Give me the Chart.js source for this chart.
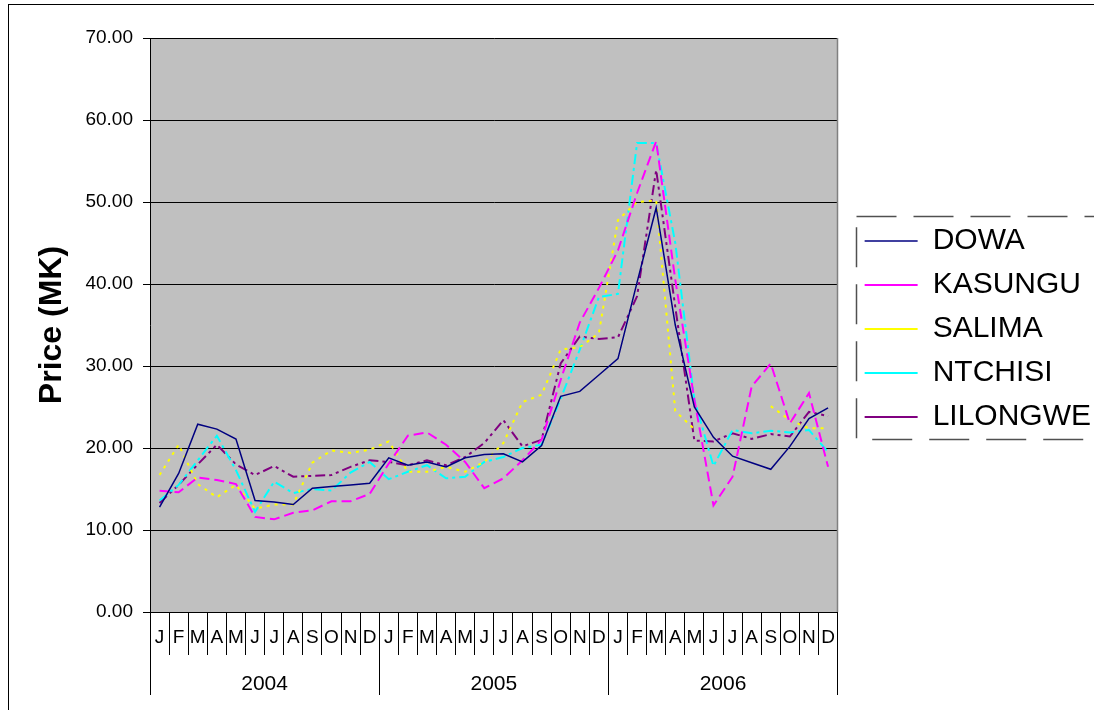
<!DOCTYPE html>
<html lang="en">
<head>
<meta charset="UTF-8">
<title>Price (MK)</title>
<script src="https://cdn.jsdelivr.net/npm/chart.js@4.4.1/dist/chart.umd.min.js"></script>
<style>
    html, body {margin:0; padding:0; background:#fff;}
    #wrap {width:1094px; height:710px;}
</style>
</head>
<body>
<div id="wrap"><canvas id="priceChart" width="1094" height="710"></canvas></div>
<script>
const months = ['J','F','M','A','M','J','J','A','S','O','N','D',
                'J','F','M','A','M','J','J','A','S','O','N','D',
                'J','F','M','A','M','J','J','A','S','O','N','D']
const years = ['2004','2005','2006']

const dowa = [12.8,16.9,22.9,22.3,21.1,13.6,13.4,13.1,15.1,15.3,15.5,15.7,
              18.8,17.9,18.3,17.7,18.8,19.2,19.3,18.3,20.3,26.3,26.9,28.9,
              30.9,40.2,49.3,35.0,25.0,21.3,19.0,18.2,17.4,20.2,23.6,24.9]
const kasungu = [14.8,14.6,16.4,16.1,15.6,11.6,11.3,12.1,12.4,13.5,13.5,14.4,
                 18.1,21.5,21.9,20.4,18.3,15.1,16.3,18.5,21.0,28.3,35.3,39.5,
                 44.1,51.1,57.4,40.5,25.9,13.0,16.5,27.5,30.3,23.0,26.7,17.7]
const salima = [16.7,20.4,15.6,14.0,15.5,12.6,13.1,13.1,18.2,19.7,19.4,19.8,
                20.8,17.1,17.1,17.7,17.1,18.3,20.6,25.6,26.5,32.0,32.3,34.0,
                47.8,50.0,50.2,24.5,22.3,null,null,null,25.1,23.4,22.4,22.4]
const ntchisi = [13.6,15.5,18.5,21.5,17.3,12.2,15.9,14.5,15.0,14.8,17.0,18.3,
                 16.2,17.1,17.9,16.3,16.5,18.3,18.9,20.0,20.4,26.0,32.0,38.4,
                 38.8,57.2,57.2,45.0,25.9,17.8,22.2,21.8,22.1,21.9,22.2,19.5]
const lilongwe = [13.3,15.5,18.0,20.4,18.0,16.7,17.8,16.5,16.6,16.7,17.7,18.5,
                  18.3,17.9,18.5,17.9,18.9,20.6,23.4,20.2,21.0,30.3,33.6,33.3,
                  33.5,38.5,53.9,37.2,20.9,20.8,21.8,21.1,21.7,21.4,24.4,23.9]

const yMin = 0, yMax = 70, yStep = 10

const FONT = "'Liberation Sans', Arial, sans-serif"
Chart.defaults.font.family = FONT
Chart.defaults.color = '#000'

// grey plot area + frames
const framePlugin = {
    id: 'frames',
    beforeDraw(chart){
        const {ctx, chartArea:a} = chart
        ctx.save()
        ctx.fillStyle = '#fff'
        ctx.fillRect(0, 0, chart.width, chart.height)
        ctx.fillStyle = '#c0c0c0'
        ctx.fillRect(a.left, a.top, a.right - a.left, a.bottom - a.top)
        ctx.restore()
    },
    beforeDatasetsDraw(chart){
        const {ctx, chartArea:a} = chart
        ctx.save()
        ctx.strokeStyle = '#808080'
        ctx.lineWidth = 1.5
        ctx.beginPath()
        ctx.moveTo(Math.round(a.right) - 0.5, a.top)
        ctx.lineTo(Math.round(a.right) - 0.5, a.bottom)
        ctx.stroke()
        ctx.restore()
    },
    afterDraw(chart){
        const ctx = chart.ctx
        ctx.save()
        ctx.strokeStyle = '#000'
        ctx.lineWidth = 1
        ctx.strokeRect(8.5, 4.5, 1100, 720)
        // dashed legend border
        const hb = chart.legend.legendHitBoxes
        if (hb && hb.length) {
            const first = hb[0], last = hb[hb.length - 1]
            const l = first.left - 9, t = first.top - 10
            const b = last.top + last.height + 7
            ctx.strokeStyle = '#505050'
            ctx.lineWidth = 1.5
            ctx.setLineDash([40, 17])
            ctx.strokeRect(Math.round(l) + 0.5, Math.round(t) + 0.5, chart.width + 20 - l, b - t)
        }
        ctx.restore()
    }
}

const ctx = document.getElementById('priceChart').getContext('2d')
const priceChart = new Chart(ctx, {
    type: 'line',
    data: {
        labels: months,
        datasets: [
            {label:'DOWA', data:dowa, borderColor:'#000080', backgroundColor:'#000080', borderWidth:1.5},
            {label:'KASUNGU', data:kasungu, borderColor:'#ff00ff', backgroundColor:'#ff00ff', borderWidth:2, borderDash:[10,5]},
            {label:'SALIMA', data:salima, borderColor:'#ffff00', backgroundColor:'#ffff00', borderWidth:2, borderDash:[3,5]},
            {label:'NTCHISI', data:ntchisi, borderColor:'#00ffff', backgroundColor:'#00ffff', borderWidth:2, borderDash:[10,4,3,4]},
            {label:'LILONGWE', data:lilongwe, borderColor:'#800080', backgroundColor:'#800080', borderWidth:2, borderDash:[10,4,3,4,3,4]}
        ]
    },
    options: {
        responsive: false,
        animation: false,
        events: [],
        elements: {
            line: {tension:0, fill:false},
            point: {radius:0}
        },
        layout: {padding:{top:38, right:-7, bottom:15, left:0}},
        scales: {
            x: {
                type: 'category',
                position: 'bottom',
                offset: true,
                grid: {offset:true, drawOnChartArea:false, color:'#000', tickLength:43},
                border: {color:'#000'},
                ticks: {autoSkip:false, maxRotation:0, minRotation:0, padding:-29, color:'#000', font:{size:19}},
                afterFit(s){ s.height = 43 }
            },
            x2: {
                type: 'category',
                position: 'bottom',
                labels: years,
                offset: true,
                grid: {offset:true, drawOnChartArea:false, color:'#000', tickLength:40},
                border: {display:false},
                ticks: {autoSkip:false, maxRotation:0, padding:-23, color:'#000', font:{size:21}},
                afterFit(s){ s.height = 40 }
            },
            y: {
                min: yMin,
                max: yMax,
                grid: {color:'#000', tickLength:7},
                border: {color:'#000'},
                ticks: {stepSize:yStep, padding:10, color:'#000', font:{size:19},
                        callback: v => Number(v).toFixed(2)},
                title: {display:true, text:'Price (MK)', color:'#000',
                        font:{size:32, weight:'bold'}, padding:{top:33, bottom:0}},
                afterFit(s){ s.width = 150 }
            },
            gap: {
                type: 'linear',
                position: 'right',
                display: false,
                afterFit(s){ s.width = 13 }
            }
        },
        plugins: {
            tooltip: {enabled:false},
            legend: {
                position: 'right',
                fullSize: false,
                align: 'center',
                title: {display:true, text:'', font:{size:0}, padding:{top:8, bottom:0}},
                labels: {usePointStyle:true, pointStyle:'line', pointStyleWidth:53,
                         padding:14, color:'#000', font:{size:30}}
            }
        }
    },
    plugins: [framePlugin]
})
</script>
</body>
</html>
